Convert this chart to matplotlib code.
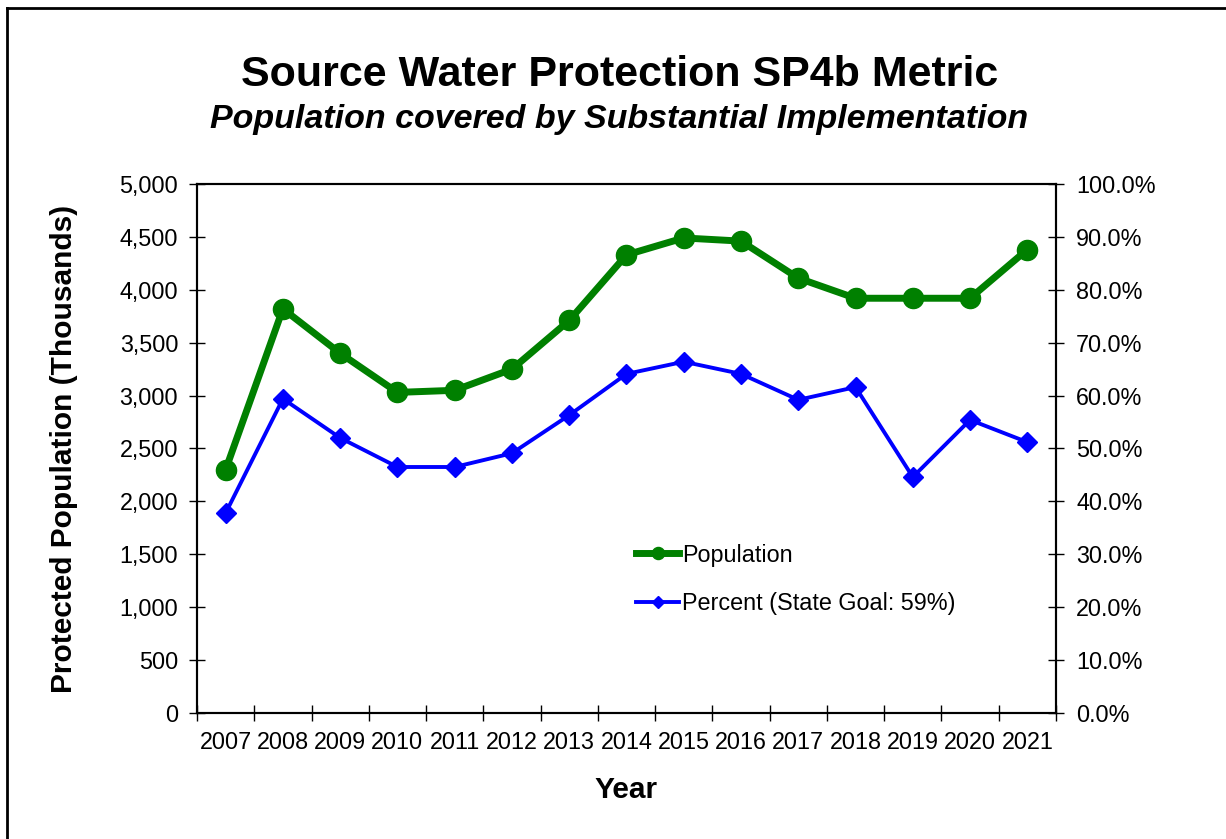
import matplotlib.pyplot as plt
from matplotlib.lines import Line2D
from matplotlib.ticker import FuncFormatter, FixedLocator

plt.rcParams['font.family'] = ['Liberation Sans', 'DejaVu Sans']

years = ["2007", "2008", "2009", "2010", "2011", "2012", "2013", "2014",
         "2015", "2016", "2017", "2018", "2019", "2020", "2021"]
population = [2300, 3820, 3400, 3030, 3050, 3250, 3710, 4330,
              4490, 4460, 4110, 3920, 3920, 3920, 4380]
percent = [37.8, 59.4, 52.0, 46.5, 46.5, 49.1, 56.3, 64.1,
           66.4, 64.1, 59.2, 61.6, 44.6, 55.4, 51.2]

fig = plt.figure(figsize=(12.26, 8.39), dpi=100)
ax = fig.add_axes([0.1607, 0.1502, 0.7006, 0.6305])
ax2 = ax.twinx()

x = list(range(len(years)))
l1, = ax.plot(x, population, color="#008000", lw=5, marker='o', ms=14.5,
              label="Population", zorder=3)
l2, = ax2.plot(x, percent, color="#0000FF", lw=2.8, marker='D', ms=10,
               label="Percent (State Goal: 59%)", zorder=3)

ax.set_xlim(-0.5, len(years) - 0.5)
ax.set_ylim(0, 5000)
ax2.set_ylim(0, 100)
ax.set_yticks(range(0, 5001, 500))
ax.yaxis.set_major_formatter(FuncFormatter(lambda v, p: f"{v:,.0f}"))
ax2.set_yticks(range(0, 101, 10))
ax2.yaxis.set_major_formatter(FuncFormatter(lambda v, p: f"{v:.1f}%"))

# category axis: ticks between years, labels centred
ax.xaxis.set_major_locator(FixedLocator([i - 0.5 for i in range(len(years) + 1)]))
ax.set_xticklabels([], minor=False)
ax.set_xticks(x, years, minor=True)
ax.tick_params(axis='x', which='major', direction='inout', length=11, width=1)
ax.tick_params(axis='x', which='minor', length=0, labelsize=16.8, pad=13)
ax.tick_params(axis='y', direction='inout', length=11, width=1, labelsize=16.8, pad=8)
ax2.tick_params(axis='y', direction='inout', length=11, width=1, labelsize=16.8, pad=9)

for a in (ax, ax2):
    for s in a.spines.values():
        s.set_linewidth(1.5)

ax.set_ylabel("Protected Population (Thousands)", fontsize=21.5, fontweight='bold', labelpad=30)
ax.set_xlabel("Year", fontsize=21.5, fontweight='bold', labelpad=15.5)

fig.text(0.505, 0.911, "Source Water Protection SP4b Metric", ha='center', va='center',
         fontsize=31, fontweight='bold')
fig.text(0.505, 0.857, "Population covered by Substantial Implementation", ha='center',
         va='center', fontsize=24.5, fontweight='bold', style='italic')

ax2.legend(handles=[l1, l2], loc='upper left', bbox_to_anchor=(0.487, 0.36), frameon=False,
           fontsize=16.8, handlelength=1.85, handletextpad=0.1, labelspacing=1.1,
           markerscale=0.6)

# outer border (top and left edges only visible)
fig.add_artist(Line2D([0.006, 1.0], [0.99, 0.99], color='black', lw=2, transform=fig.transFigure))
fig.add_artist(Line2D([0.006, 0.006], [0.0, 0.99], color='black', lw=2, transform=fig.transFigure))

fig.savefig("out.png", dpi=100)
